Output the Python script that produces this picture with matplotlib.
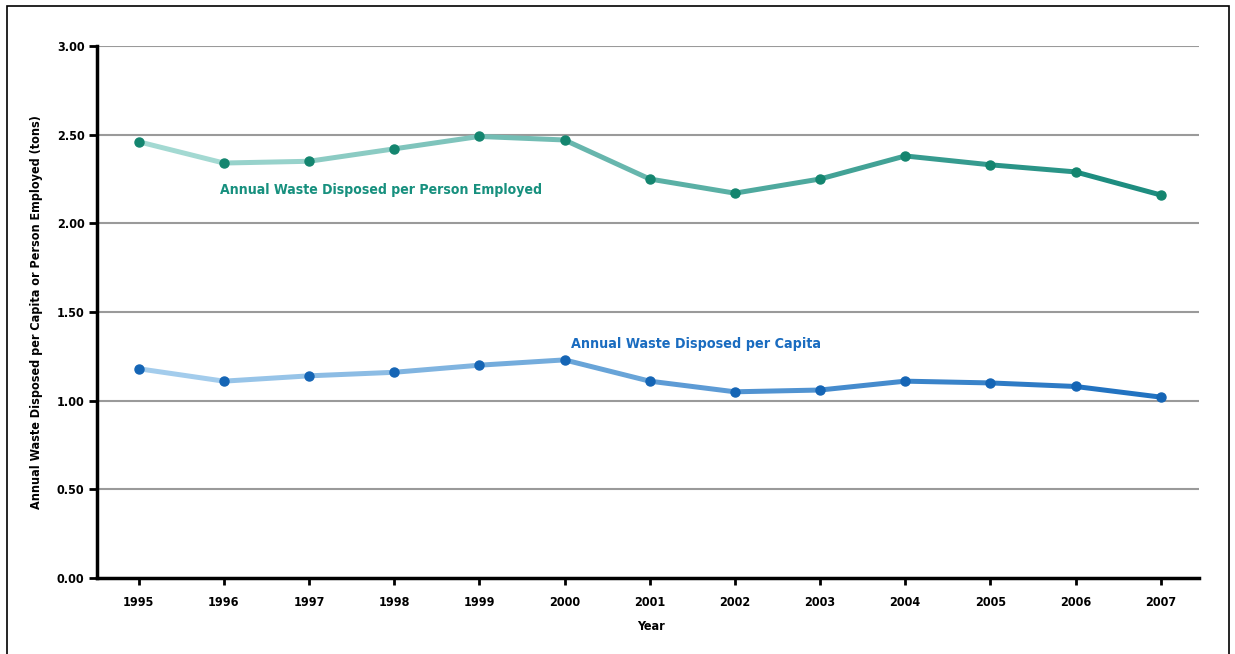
import matplotlib
matplotlib.use("Agg")
import matplotlib.pyplot as plt
import numpy as np
from matplotlib.patches import Rectangle
from matplotlib.colors import to_rgb

years = [1995, 1996, 1997, 1998, 1999, 2000, 2001, 2002, 2003, 2004, 2005, 2006, 2007]
per_employed = [2.46, 2.34, 2.35, 2.42, 2.49, 2.47, 2.25, 2.17, 2.25, 2.38, 2.33, 2.29, 2.16]
per_capita = [1.18, 1.11, 1.14, 1.16, 1.20, 1.23, 1.11, 1.05, 1.06, 1.11, 1.10, 1.08, 1.02]
yticks = [0.0, 0.5, 1.0, 1.5, 2.0, 2.5, 3.0]
ytick_labels = ["0.00", "0.50", "1.00", "1.50", "2.00", "2.50", "3.00"]
label_employed = "Annual Waste Disposed per Person Employed"
label_capita = "Annual Waste Disposed per Capita"
ylabel = "Annual Waste Disposed per Capita or Person Employed (tons)"
xlabel = "Year"

plt.rcParams['font.family'] = ["DejaVu Sans"]
plt.rcParams['font.stretch'] = "condensed"

fig = plt.figure(figsize=(12.35, 6.54), dpi=100)
fig.patch.set_facecolor("white")
fig.patches.append(Rectangle((7/1235, -0.05), (1229-7)/1235, 1.05 - 6/654,
                             transform=fig.transFigure, fill=False,
                             edgecolor="black", linewidth=1.2))

ax = fig.add_axes([97/1235, 76/654, (1199-97)/1235, (608-76)/654])
ax.set_xlim(1994.51, 2007.45)
ax.set_ylim(0, 3.0)

for y in yticks[1:]:
    ax.axhline(y, color="#9a9a9a", linewidth=1.5, zorder=1)


def gradient_line(xs, ys, c0, c1, mcolor):
    c0 = np.array(to_rgb(c0)); c1 = np.array(to_rgb(c1))
    n = len(xs) - 1
    for i in range(n):
        t = (i + 0.5) / n
        col = c0 * (1 - t) + c1 * t
        ax.plot(xs[i:i + 2], ys[i:i + 2], color=col, linewidth=3.6,
                solid_capstyle="round", zorder=3)
    ax.plot(xs, ys, linestyle="none", marker="o", markersize=6.5,
            color=mcolor, zorder=4)


gradient_line(years, per_employed, "#a9dcd6", "#188a7c", "#14856f")
gradient_line(years, per_capita, "#a9d0ee", "#1c6fbf", "#1565b5")

ax.text(1995.95, 2.19, label_employed, color="#17907e", fontsize=10.1,
        fontweight="bold", va="center", ha="left", fontstretch="condensed")
ax.text(2000.07, 1.32, label_capita, color="#1a6cc0", fontsize=10.3,
        fontweight="bold", va="center", ha="left", fontstretch="condensed")

ax.set_yticks(yticks)
ax.set_yticklabels(ytick_labels, fontsize=9, fontweight="bold")
ax.set_xticks(years)
ax.set_xticklabels([str(y) for y in years], fontsize=9, fontweight="bold")
ax.tick_params(axis="y", direction="out", length=6, width=2, pad=3)
ax.tick_params(axis="x", direction="out", length=5, width=2, pad=8)

for s in ["top", "right"]:
    ax.spines[s].set_visible(False)
ax.spines["left"].set_linewidth(2.5)
ax.spines["bottom"].set_linewidth(2.5)
ax.spines["left"].set_zorder(5)
ax.spines["bottom"].set_zorder(5)

fig.text(37/1235, 1 - 312/654, ylabel, rotation=90, fontsize=9,
         fontweight="bold", ha="center", va="center")
fig.text(651/1235, 1 - 627/654, xlabel, fontsize=9, fontweight="bold",
         ha="center", va="center")

fig.savefig("out.png", dpi=100)
